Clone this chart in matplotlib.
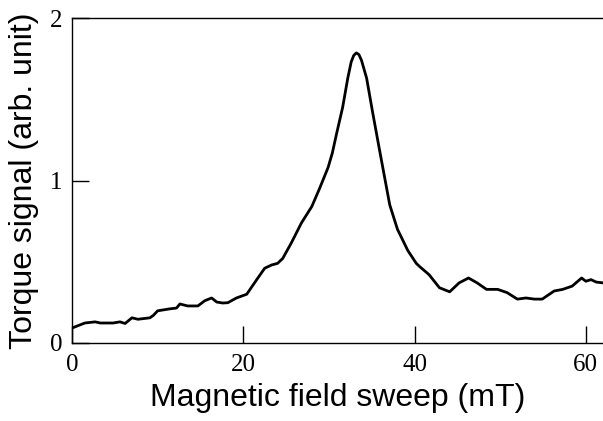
import numpy as np
import matplotlib
matplotlib.use("Agg")
import matplotlib.pyplot as plt

# field sweep (mT) and torque signal (arb. unit)
field = [0.0, 1.5, 2.7, 3.3, 4.8, 5.6, 6.2, 7.0, 7.7, 9.1, 9.5, 10.0, 11.4, 12.2,
         12.6, 13.5, 14.7, 15.5, 16.3, 16.9, 17.6, 18.2, 19.2, 20.4, 21.7, 22.5,
         23.3, 24.0, 24.6, 25.6, 26.8, 28.0, 28.9, 29.9, 30.4, 30.9, 31.6, 32.2,
         32.6, 32.9, 33.2, 33.5, 33.8, 34.4, 35.1, 35.9, 36.5, 37.1, 38.0, 39.2,
         40.2, 40.6, 41.7, 42.9, 44.1, 45.2, 46.3, 47.3, 48.4, 49.7, 50.8, 52.0,
         53.0, 54.0, 54.9, 56.3, 57.3, 58.4, 59.5, 60.0, 60.6, 61.2, 62.0]
torque = [0.092, 0.123, 0.13, 0.123, 0.123, 0.13, 0.12, 0.155, 0.146, 0.155, 0.17,
          0.198, 0.21, 0.215, 0.24, 0.228, 0.228, 0.26, 0.277, 0.252, 0.246, 0.248,
          0.277, 0.30, 0.40, 0.46, 0.48, 0.49, 0.52, 0.615, 0.74, 0.84, 0.95, 1.08,
          1.17, 1.29, 1.45, 1.63, 1.73, 1.77, 1.785, 1.775, 1.74, 1.63, 1.42, 1.19,
          1.02, 0.85, 0.70, 0.57, 0.49, 0.47, 0.42, 0.34, 0.315, 0.37, 0.40, 0.37,
          0.33, 0.33, 0.31, 0.27, 0.277, 0.27, 0.27, 0.32, 0.33, 0.35, 0.40, 0.38,
          0.39, 0.375, 0.37]

xticks = [0, 20, 40, 60]
yticks = [0, 1, 2]

fig = plt.figure(figsize=(6.03, 4.21), dpi=100)
ax = fig.add_axes([0.1194, 0.1853, 0.8806, 0.7719])

ax.plot(field, torque, color='black', lw=2.0, solid_joinstyle='round')

ax.set_xlim(0, 62)
ax.set_ylim(0, 2)
ax.set_xticks(xticks)
ax.set_yticks(yticks)
ax.spines['right'].set_visible(False)
for s in ['left', 'top', 'bottom']:
    ax.spines[s].set_linewidth(1.0)

ax.tick_params(direction='in', length=12, width=1.0, top=False, right=False)
ax.tick_params(axis='x', pad=8)
ax.tick_params(axis='y', pad=7)
for lab in ax.get_xticklabels() + ax.get_yticklabels():
    lab.set_fontfamily('Liberation Serif')
    lab.set_fontsize(18)

ax.set_xlabel("Magnetic field sweep (mT)", fontsize=23, family='Liberation Sans', labelpad=5)
ax.set_ylabel("Torque signal (arb. unit)", fontsize=23, family='Liberation Sans', labelpad=8)

plt.savefig("out.png", dpi=100)
plt.close()
